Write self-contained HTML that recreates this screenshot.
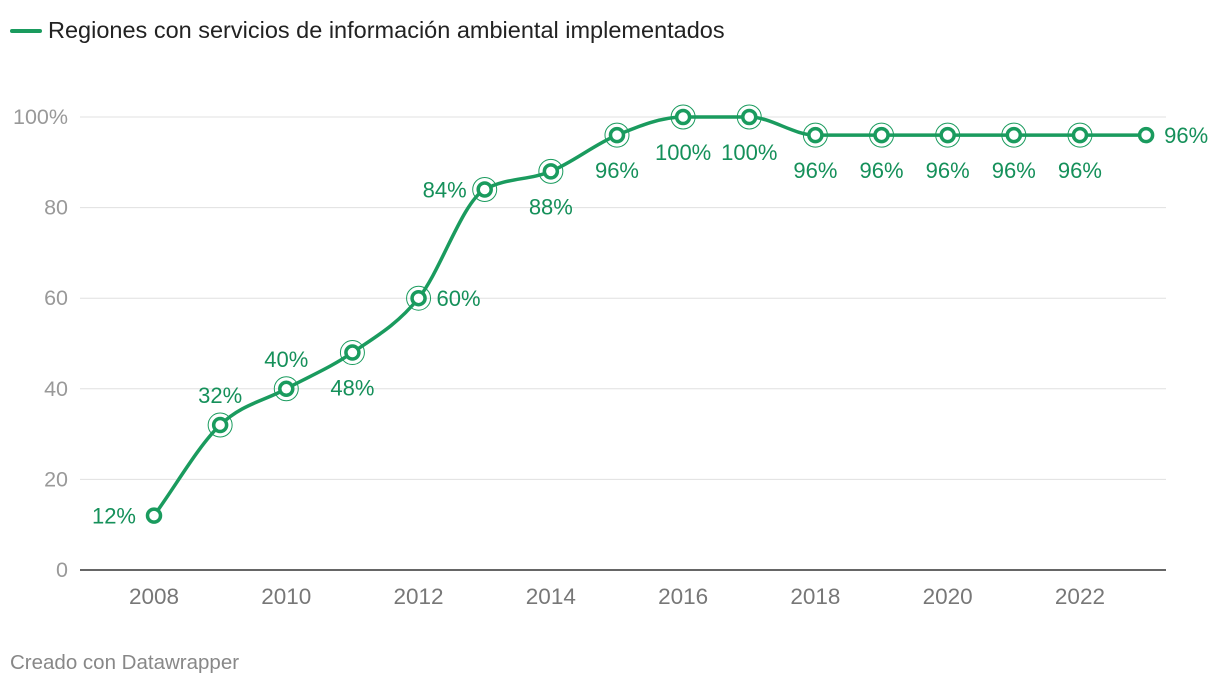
<!DOCTYPE html>
<html><head><meta charset="utf-8">
<style>
body{margin:0;background:#fff;font-family:"Liberation Sans",sans-serif;}
svg{display:block}
</style></head>
<body>
<svg id="chart" width="1220" height="686" viewBox="0 0 1220 686">
  <g>
    <line x1="12" y1="31" x2="40" y2="31" stroke="#1a9b5e" stroke-width="4" stroke-linecap="round"/>
    <text x="48" y="38" font-size="23.5" fill="#222">Regiones con servicios de información ambiental implementados</text>
  </g>
  <g id="grid"></g>
  <g id="yticks"></g>
  <g id="xticks"></g>
  <path id="line" fill="none" stroke="#1a9b5e" stroke-width="3.5"/>
  <g id="marks"></g>
  <g id="labels"></g>
  <text x="10" y="669" font-size="20.5" fill="#888">Creado con Datawrapper</text>
</svg>
<script>
const years = [2008,2009,2010,2011,2012,2013,2014,2015,2016,2017,2018,2019,2020,2021,2022,2023];
const values = [12,32,40,48,60,84,88,96,100,100,96,96,96,96,96,96];
const yTicks = [0,20,40,60,80,100];
const xTicks = [2008,2010,2012,2014,2016,2018,2020,2022];
const labelPos = ['left','above','above','below','right','left','below','below','below','below','below','below','below','below','below','right'];

const NS="http://www.w3.org/2000/svg";
const C="#1a9b5e";
const x = y => 154 + (y-2008)*66.14;
const yS = v => 570 - v*4.53;
function mk(tag, attrs, parent){const e=document.createElementNS(NS,tag);for(const k in attrs)e.setAttribute(k,attrs[k]);parent.appendChild(e);return e;}

const grid=document.getElementById('grid'), yt=document.getElementById('yticks'), xt=document.getElementById('xticks');
yTicks.forEach(t=>{
  const l=mk('line',{x1:80,x2:1166,y1:yS(t),y2:yS(t),stroke:t===0?'#333':'#e0e0e0','stroke-width':t===0?1.5:1},grid);
  
  
  const tx=mk('text',{x:68,y:yS(t)+7,'text-anchor':'end','font-size':21.5,fill:'#999'},yt);
  tx.textContent = t===100?'100%':t;
  
  
});
xTicks.forEach(t=>{
  const tx=mk('text',{x:x(t),y:604,'text-anchor':'middle','font-size':22.5,fill:'#777'},xt);
  tx.textContent=t;
  
  
});

const px=years.map(x), py=values.map(yS), n=px.length;
const d=[],m=[];
for(let i=0;i<n-1;i++) d.push((py[i+1]-py[i])/(px[i+1]-px[i]));
for(let i=0;i<n;i++){
  if(i===0) m.push(d[0]); else if(i===n-1) m.push(d[n-2]);
  else { if(d[i-1]*d[i]<=0) m.push(0); else { const h0=px[i]-px[i-1],h1=px[i+1]-px[i]; const p=(d[i-1]*h1+d[i]*h0)/(h0+h1); m.push((Math.sign(d[i-1])+Math.sign(d[i]))*Math.min(Math.abs(d[i-1]),Math.abs(d[i]),0.5*Math.abs(p))); } }
}
let path=`M${px[0]},${py[0]}`;
for(let i=0;i<n-1;i++){const h=(px[i+1]-px[i])/3;path+=`C${px[i]+h},${py[i]+m[i]*h} ${px[i+1]-h},${py[i+1]-m[i+1]*h} ${px[i+1]},${py[i+1]}`;}
document.getElementById('line').setAttribute('d',path);

const marks=document.getElementById('marks'), labs=document.getElementById('labels');
years.forEach((yr,i)=>{
  const cx=x(yr), cy=yS(values[i]);
  if(i>0 && i<n-1){
    const r=mk('circle',{cx,cy,r:12,fill:'none',stroke:C,'stroke-width':1},marks);
    
    
  }
  const c=mk('circle',{cx,cy,r:6.5,fill:'#fff',stroke:C,'stroke-width':3.5},marks);
  
  
  const p=labelPos[i]; let lx=cx,ly=cy+8,a='middle';
  if(p==='left'){lx=cx-18;a='end';} else if(p==='right'){lx=cx+18;a='start';}
  else if(p==='above'){ly=cy-22;} else {ly=cy+43;}
  const t=mk('text',{x:lx,y:ly,'text-anchor':a,'font-size':22,fill:'#15905a'},labs);
  t.textContent=values[i]+'%';
  
  
});
</script>
</body></html>
